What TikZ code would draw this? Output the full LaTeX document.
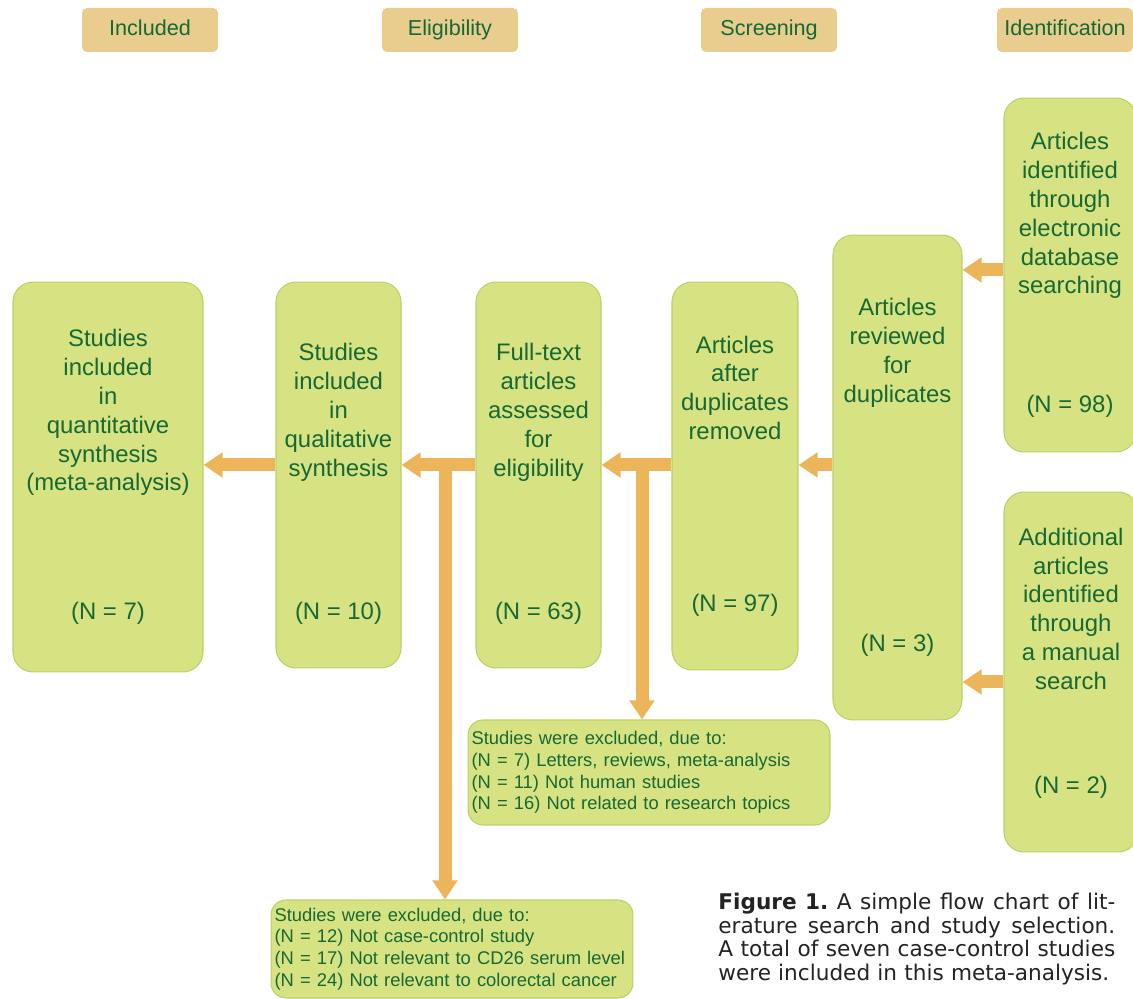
\documentclass[tikz,border=0pt]{standalone}
\usepackage{fontspec}
\setmainfont{Liberation Sans}
\newfontfamily\captionfont{DejaVu Sans}
\usetikzlibrary{arrows.meta,positioning}
\definecolor{boxfill}{RGB}{215,227,130}
\definecolor{boxline}{RGB}{188,208,104}
\definecolor{boxtext}{RGB}{22,104,52}
\definecolor{stagefill}{RGB}{232,205,142}
\definecolor{arrowfill}{RGB}{237,181,90}
\definecolor{captext}{RGB}{35,35,35}
\tikzset{
  stage/.style={fill=stagefill, rounded corners=0.1cm, minimum width=2.72cm, minimum height=0.88cm,
    text=boxtext, text height=0.8em, text depth=0.2em, font=\fontsize{12.3}{14}\selectfont},
  record/.style={fill=boxfill, draw=boxline, line width=0.6pt, rounded corners=0.4cm, text=boxtext,
    align=center, inner sep=0pt, font=\fontsize{13.6}{16.4}\selectfont},
  excluded/.style={fill=boxfill, draw=boxline, line width=0.6pt, rounded corners=0.3cm, text=boxtext,
    align=left, text width=7.1cm, inner xsep=0.07cm, font=\fontsize{10.45}{12.3}\selectfont},
  flowarrow/.style={draw=arrowfill, line width=0.26cm, -{Triangle[width=0.48cm,length=0.38cm]}}
}
\newcommand{\capline}[1]{\leavevmode\hbox to 7.94cm{\spaceskip=0.318em plus 0.5em minus 0.05em\relax #1}}
\begin{document}
\begin{tikzpicture}[x=0.02cm, y=-0.02cm]
\clip (0,0) rectangle (1133,999);
\fill[white] (0,0) rectangle (1133,999);

\node[stage] (included) at (150,30) {Included};
\node[stage] (eligibility) at (450,30) {Eligibility};
\node[stage] (screening) at (769,30) {Screening};
\node[stage] (identification) at (1065,30) {Identification};

\node[record, minimum width=3.8cm, minimum height=7.8cm] (quantit) at (108,477)
  {Studies\\included\\in\\quantitative\\synthesis\\(meta-analysis)\\[2cm](N = 7)};
\node[record, minimum width=2.5cm, minimum height=7.72cm] (qualit) at (338.5,475)
  {\rule{0pt}{0.7cm}Studies\\included\\in\\qualitative\\synthesis\\[2.28cm](N = 10)};
\node[record, minimum width=2.5cm, minimum height=7.72cm] (fulltext) at (538.5,475)
  {\rule{0pt}{0.7cm}Full-text\\articles\\assessed\\for\\eligibility\\[2.28cm](N = 63)};
\node[record, minimum width=2.52cm, minimum height=7.76cm] (dedup) at (735,476)
  {Articles\\after\\duplicates\\removed\\[2.86cm](N = 97)};
\node[record, minimum width=2.58cm, minimum height=9.7cm] (reviewed) at (897.5,477.5)
  {Articles\\reviewed\\for\\duplicates\\[4.42cm](N = 3)};
\node[record, minimum width=2.64cm, minimum height=7.08cm] (database) at (1070,275)
  {Articles\\identified\\through\\electronic\\database\\searching\\[1.8cm](N = 98)};
\node[record, minimum width=2.68cm, minimum height=7.2cm] (manual) at (1071,672)
  {Additional\\articles\\identified\\through\\a manual\\search\\[1.5cm](N = 2)\rule[-0.46cm]{0pt}{0.46cm}};

\node[excluded, minimum height=2.1cm] (excl1) at (649,772.5)
  {Studies were excluded, due to:\\(N = 7) Letters, reviews, meta-analysis\\(N = 11) Not human studies\\(N = 16) Not related to research topics};
\node[excluded, minimum height=1.96cm] (excl2) at (452,949)
  {Studies were excluded, due to:\\(N = 12) Not case-control study\\(N = 17) Not relevant to CD26 serum level\\(N = 24) Not relevant to colorectal cancer};

\coordinate (split1) at (642,465);
\coordinate (split2) at (445,465);
\draw[flowarrow] (database.west |- 0,270) -- (reviewed.east |- 0,270);
\draw[flowarrow] (manual.west |- 0,682) -- (reviewed.east |- 0,682);
\draw[flowarrow] (reviewed.west |- 0,465) -- (dedup.east |- 0,465);
\draw[flowarrow] (dedup.west |- 0,465) -- (fulltext.east |- 0,465);
\draw[flowarrow] (fulltext.west |- 0,465) -- (qualit.east |- 0,465);
\draw[flowarrow] (qualit.west |- 0,465) -- (quantit.east |- 0,465);
\draw[flowarrow] (split1) -- (split1 |- excl1.north);
\draw[flowarrow] (split2) -- (split2 |- excl2.north);

\node[anchor=north west, inner sep=0pt, text width=7.94cm, align=left, text=captext,
  font=\captionfont\fontsize{12.3}{13.4}\selectfont\frenchspacing] (caption) at (718,893)
  {\capline{\textbf{Figure 1.} A simple flow chart of lit-}\\
   \capline{erature search and study selection.}\\
   \capline{A total of seven case-control studies}\\
   were included in this meta-analysis.};
\end{tikzpicture}
\end{document}
